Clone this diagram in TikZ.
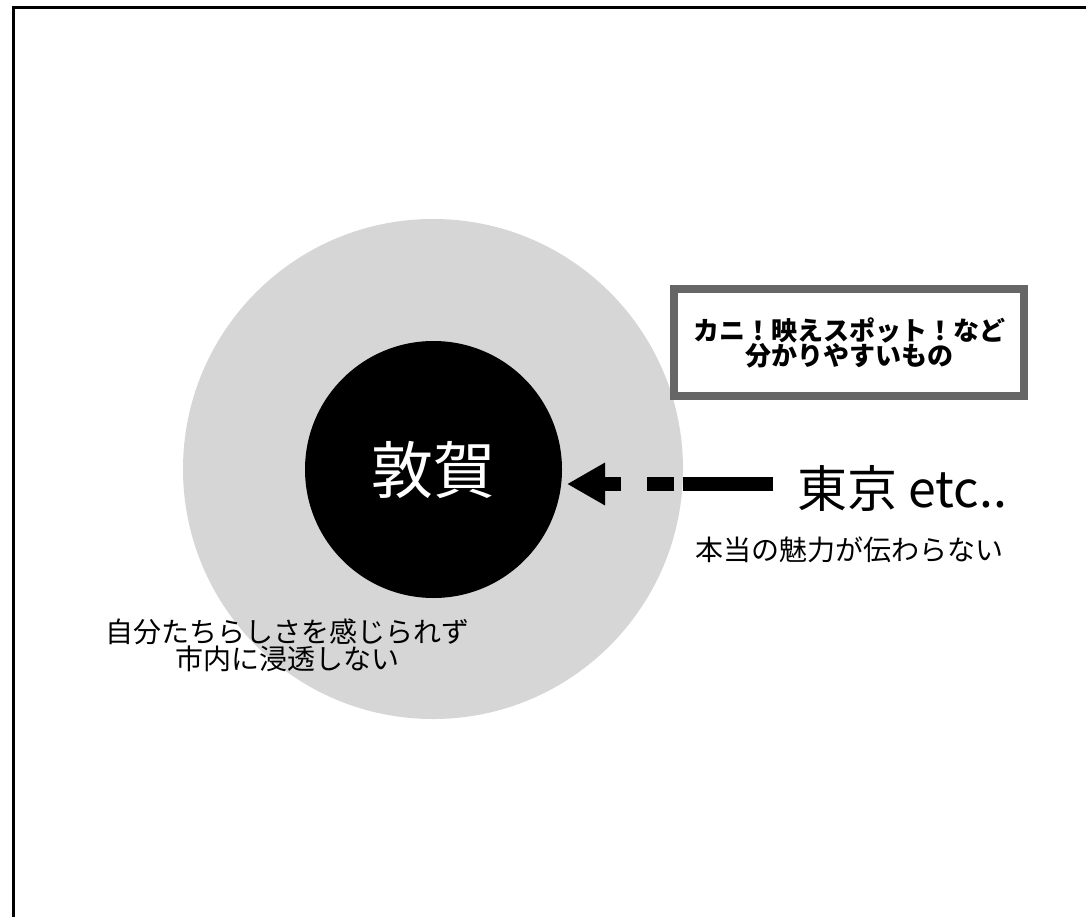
\documentclass[tikz,border=0pt]{standalone}
\usepackage{fontspec}
\setmainfont{Noto Sans CJK JP}
\usetikzlibrary{arrows.meta}
\definecolor{ringgray}{RGB}{214,214,214}
\definecolor{boxgray}{RGB}{102,102,102}
\tikzset{
  txt/.style={inner sep=0pt, text=black, align=center},
  ring/.style={circle, fill=ringgray, minimum size=500pt, inner sep=0pt},
  core/.style={circle, fill=black, minimum size=257pt, inner sep=0pt, text=white},
  notebox/.style={draw=boxgray, line width=8pt, minimum width=350pt, minimum height=107pt, inner sep=0pt, align=center, fill=white},
  bigarrow/.style={line width=14pt, -{Triangle[length=38pt,width=40pt]}, dash pattern=on 90pt off 9pt on 27pt off 26pt on 30pt off 100pt}
}
\begin{document}
\begin{tikzpicture}[x=1pt,y=-1pt]
\useasboundingbox (0,0) rectangle (1086,917);
\clip (0,0) rectangle (1086,917);
\fill[white] (0,0) rectangle (1086,917);
\draw[line width=3pt] (13,1000) -- (13,7.5) -- (1200,7.5);
\node[ring] (outer) at (433,469) {};
\node[core, font=\fontsize{62pt}{62pt}\selectfont] (tsuruga) at (433.5,469.5) {敦賀};
\node[notebox, font=\fontsize{26pt}{25pt}\selectfont\bfseries] (note) at (849,342.5) {カニ！映えスポット！など\\分かりやすいもの};
\node[txt, anchor=west, font=\fontsize{50pt}{50pt}\selectfont] (tokyo) at (797,488) {東京 etc..};
\node[txt, font=\fontsize{28pt}{28pt}\selectfont] (tokyosub) at (849,550) {本当の魅力が伝わらない};
\node[txt, font=\fontsize{28pt}{26pt}\selectfont] (inside) at (287,645) {自分たちらしさを感じられず\\市内に浸透しない};
\coordinate (aStart) at (773,484);
\coordinate (aEnd) at (567,484);
\draw[bigarrow] (aStart) -- (aEnd);
\end{tikzpicture}
\end{document}
